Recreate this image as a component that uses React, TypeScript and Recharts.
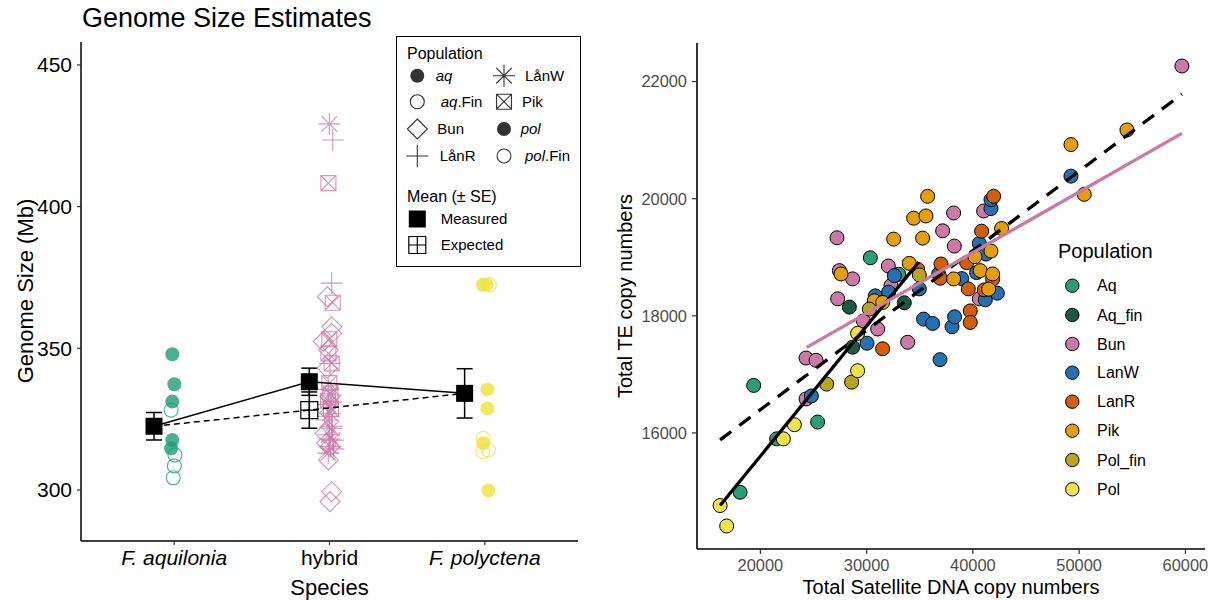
import React from 'react';
import { ScatterChart, Scatter, XAxis, YAxis, ErrorBar } from 'recharts';

const FONT = '"Liberation Sans", Arial, Helvetica, sans-serif';

// ---------------- Left panel: genome size ----------------
const speciesTicks = [1, 2, 3];
const speciesNames = ['F. aquilonia', 'hybrid', 'F. polyctena'];
const genomeTicks = [300, 350, 400, 450];

const aqX = [0.988, 1.001, 0.988, 0.988, 0.98];
const aqY = [347.9, 337.3, 331.2, 317.6, 314.7];
const aqFinX = [0.98, 1.005, 1.001, 0.994];
const aqFinY = [328.2, 312.4, 308.5, 304.3];
const polX = [2.987, 3.012, 3.016, 3.016, 2.99, 3.023];
const polY = [372.4, 372.4, 335.5, 328.8, 316.5, 299.8];
const polFinX = [3.029, 2.99, 2.987, 3.023];
const polFinY = [372.4, 318.2, 313.5, 314.1];
const lanWX = [1.999, 2.01, 1.99, 2.003, 1.985, 2.014, 1.996, 2.021, 2.006, 1.992];
const lanWY = [429.2, 333.5, 330.2, 327.1, 324.7, 321.8, 319.5, 317.6, 315.3, 313.0];
const lanRX = [2.021, 2.014, 2.003, 1.993, 2.01, 1.996, 2.018, 2.0, 2.025];
const lanRY = [423.5, 373.0, 344.7, 335.5, 331.0, 326.0, 322.5, 318.0, 314.5];
const pikX = [1.993, 2.021, 1.999, 1.993, 2.014, 1.999, 2.006, 1.99, 2.01];
const pikY = [408.3, 366.1, 353.2, 348.2, 344.7, 337.7, 334.1, 331.5, 328.5];
const bunX = [1.986, 2.014, 2.014, 1.96, 1.993, 1.986, 2.003, 1.971, 1.98, 2.003, 1.993, 2.014, 2.003];
const bunY = [368.2, 357.6, 355.3, 352.4, 349.4, 343.0, 333.0, 320.0, 316.5, 315.3, 310.6, 299.4, 295.9];

const meanX = [0.87, 1.87, 2.87];
const measuredMean = [322.5, 338.2, 334.1];
const measuredSE = [4.85, 4.8, 8.7];
const expectedX = [1.87];
const expectedMean = [328.2];
const expectedSE = [6.4];

// ---------------- Right panel: TE vs satellite ----------------
const satTicks = [20000, 30000, 40000, 50000, 60000];
const teTicks = [16000, 18000, 20000, 22000];

const aqPts = [[18090, 14986], [19370, 16811], [21533, 15899], [25390, 16186], [30348, 18992], [33014, 18710]];
const aqFinPts = [[28686, 17464], [28373, 18149], [33547, 18223]];
const bunPts = [[59670, 22267], [24298, 16580], [24298, 17279], [25240, 17240], [29690, 17911], [31038, 17775], [33861, 17548], [32293, 18517], [32042, 18851], [27212, 19333], [27432, 18772], [28686, 18631], [27275, 18291], [38251, 19191], [37153, 19452], [38188, 19757], [41011, 19791], [40603, 18291]];
const lanWPts = [[49228, 20386], [24797, 16631], [30037, 17532], [36904, 17251], [35361, 17944], [36208, 17870], [38033, 17814], [38278, 17983], [30819, 18341], [32073, 18404], [32606, 18687], [34958, 18460], [38941, 18636], [36777, 18715], [40352, 18738], [40603, 19236], [41230, 19055], [41701, 19831], [41701, 19984], [41168, 18274], [42297, 18387]];
const lanRPts = [[31505, 17437], [39755, 18084], [39755, 17887], [34802, 18795], [39568, 18460], [36997, 18885], [36934, 18642], [39412, 18908], [41858, 18625], [40823, 19446], [41952, 20041], [41074, 18443]];
const pikPts = [[49228, 20925], [54497, 21174], [50480, 20075], [30725, 18257], [31509, 18228], [34018, 18896], [38188, 18630], [40195, 19010], [40697, 18772], [41858, 18715], [41701, 19106], [42704, 19491], [32544, 19310], [35272, 19327], [34425, 19667], [35586, 19706], [35742, 20041], [41481, 18455], [27589, 18715]];
const polFinPts = [[26237, 16834], [28589, 16867], [30255, 18115], [34958, 18698]];
const polPts = [[16209, 14759], [16830, 14410], [22164, 15899], [23198, 16140], [29153, 17063], [29155, 17700]];

const dashedFit = [[16209, 15880], [59670, 21786]];
const bunFit = [[24356, 17461], [59670, 21116]];
const polFit = [[16209, 14759], [34892, 18914]];

const popNames = ['Aq', 'Aq_fin', 'Bun', 'LanW', 'LanR', 'Pik', 'Pol_fin', 'Pol'];
const popColors = ['#2A9D78', '#1B5A41', '#CC79A7', '#2271B2', '#D55E00', '#E69F00', '#B5A61E', '#F0E442'];
const popData = [aqPts, aqFinPts, bunPts, lanWPts, lanRPts, pikPts, polFinPts, polPts];

// ---------------- helpers ----------------
const zip = (xs: number[], ys: number[]) => xs.map((x, i) => ({ x, y: ys[i] }));
const pairs = (p: number[][]) => p.map(([x, y]) => ({ x, y }));

const GREEN = '#1B9E77';
const YELLOW = '#F0E442';
const PINK = '#CC79A7';

function Mark({ kind, cx, cy, color, op = 1, sw = 1.1 }: { kind: string; cx: number; cy: number; color: string; op?: number; sw?: number }) {
  if (cx == null || cy == null) return <g />;
  switch (kind) {
    case 'dot':
      return <circle cx={cx} cy={cy} r={7} fill={color} fillOpacity={op} />;
    case 'ring':
      return <circle cx={cx} cy={cy} r={7} fill="none" stroke={color} strokeOpacity={op} strokeWidth={sw} />;
    case 'diamond': {
      const s = 10;
      return <path d={`M${cx},${cy - s}L${cx + s},${cy}L${cx},${cy + s}L${cx - s},${cy}Z`} fill="none" stroke={color} strokeOpacity={op} strokeWidth={sw} />;
    }
    case 'plus': {
      const s = 11;
      return <path d={`M${cx - s},${cy}H${cx + s}M${cx},${cy - s}V${cy + s}`} fill="none" stroke={color} strokeOpacity={op} strokeWidth={sw} />;
    }
    case 'star': {
      const s = 11;
      const d = 7.8;
      return <path d={`M${cx - s},${cy}H${cx + s}M${cx},${cy - s}V${cy + s}M${cx - d},${cy - d}L${cx + d},${cy + d}M${cx - d},${cy + d}L${cx + d},${cy - d}`} fill="none" stroke={color} strokeOpacity={op} strokeWidth={sw} />;
    }
    case 'boxx': {
      const s = 7.5;
      return <path d={`M${cx - s},${cy - s}H${cx + s}V${cy + s}H${cx - s}ZM${cx - s},${cy - s}L${cx + s},${cy + s}M${cx - s},${cy + s}L${cx + s},${cy - s}`} fill="none" stroke={color} strokeOpacity={op} strokeWidth={sw} />;
    }
    case 'square': {
      const s = 8.5;
      return <rect x={cx - s} y={cy - s} width={2 * s} height={2 * s} fill={color} />;
    }
    case 'squareplus': {
      const s = 8.5;
      return <path d={`M${cx - s},${cy - s}H${cx + s}V${cy + s}H${cx - s}ZM${cx - s},${cy}H${cx + s}M${cx},${cy - s}V${cy + s}`} fill="none" stroke={color} strokeWidth={1.2} />;
    }
    default:
      return <g />;
  }
}

const shapeOf = (kind: string, color: string, op = 1) => (p: any) => <Mark kind={kind} cx={p.cx} cy={p.cy} color={color} op={op} />;
const noShape = () => <g />;

const SpeciesTick = (props: any) => {
  const { x, y, payload } = props;
  const i = speciesTicks.indexOf(payload.value);
  const label = speciesNames[i] ?? '';
  return (
    <text x={x} y={y} dy="0.71em" textAnchor="middle" fontSize={21} fontFamily={FONT} fill="#000" fontStyle={label.startsWith('F.') ? 'italic' : 'normal'}>
      {label}
    </text>
  );
};

function LeftChart() {
  const measured = meanX.map((x, i) => ({ x, y: measuredMean[i], se: measuredSE[i] }));
  const expected = expectedX.map((x, i) => ({ x, y: expectedMean[i], se: expectedSE[i] }));
  const expPath = [measured[0], { x: expectedX[0], y: expectedMean[0] }, measured[2]];
  return (
    <ScatterChart width={600} height={600} margin={{ top: 42, right: 22, bottom: 0, left: 0 }}>
      <XAxis type="number" dataKey="x" domain={[0.4, 3.6]} ticks={speciesTicks} allowDataOverflow height={59} tickSize={4} tickMargin={5}
        tick={<SpeciesTick />} tickLine={{ stroke: '#333', strokeWidth: 1.2 }} axisLine={{ stroke: '#000', strokeWidth: 1.5 }} />
      <YAxis type="number" dataKey="y" domain={[282, 458.1]} ticks={genomeTicks} allowDataOverflow width={81} tickSize={4} tickMargin={5}
        tick={{ fill: '#000', fontSize: 21, fontFamily: FONT }} tickLine={{ stroke: '#333', strokeWidth: 1.2 }} axisLine={{ stroke: '#000', strokeWidth: 1.5 }} />
      <Scatter data={zip(aqX, aqY)} shape={shapeOf('dot', GREEN, 0.8)} isAnimationActive={false} />
      <Scatter data={zip(aqFinX, aqFinY)} shape={shapeOf('ring', GREEN, 0.8)} isAnimationActive={false} />
      <Scatter data={zip(bunX, bunY)} shape={shapeOf('diamond', PINK, 0.8)} isAnimationActive={false} />
      <Scatter data={zip(lanRX, lanRY)} shape={shapeOf('plus', PINK, 0.8)} isAnimationActive={false} />
      <Scatter data={zip(lanWX, lanWY)} shape={shapeOf('star', PINK, 0.8)} isAnimationActive={false} />
      <Scatter data={zip(pikX, pikY)} shape={shapeOf('boxx', PINK, 0.8)} isAnimationActive={false} />
      <Scatter data={zip(polX, polY)} shape={shapeOf('dot', YELLOW, 0.85)} isAnimationActive={false} />
      <Scatter data={zip(polFinX, polFinY)} shape={shapeOf('ring', YELLOW, 0.85)} isAnimationActive={false} />
      <Scatter data={expPath} shape={noShape} line={{ stroke: '#000', strokeWidth: 1.5, strokeDasharray: '6 4' }} isAnimationActive={false} />
      <Scatter data={expected} shape={shapeOf('squareplus', '#000')} isAnimationActive={false}>
        <ErrorBar dataKey="se" direction="y" width={8} stroke="#000" strokeWidth={1.5} />
      </Scatter>
      <Scatter data={measured} shape={shapeOf('square', '#000')} line={{ stroke: '#000', strokeWidth: 1.5 }} isAnimationActive={false}>
        <ErrorBar dataKey="se" direction="y" width={8} stroke="#000" strokeWidth={1.5} />
      </Scatter>
    </ScatterChart>
  );
}

function RightChart() {
  const circle = (color: string) => (p: any) =>
    p.cx == null ? <g /> : <circle cx={p.cx} cy={p.cy} r={7} fill={color} stroke="#000" strokeWidth={1} />;
  return (
    <ScatterChart width={617} height={600} margin={{ top: 43, right: 12, bottom: 0, left: 0 }}>
      <XAxis type="number" dataKey="x" domain={[14036, 61843]} ticks={satTicks} allowDataOverflow height={51} tickSize={5} tickMargin={5}
        tick={{ fill: '#4D4D4D', fontSize: 16.4, fontFamily: FONT }} tickLine={{ stroke: '#333', strokeWidth: 1.2 }} axisLine={{ stroke: '#000', strokeWidth: 1.6 }} />
      <YAxis type="number" dataKey="y" domain={[14017, 22660]} ticks={teTicks} allowDataOverflow width={97} tickSize={5} tickMargin={5}
        tick={{ fill: '#4D4D4D', fontSize: 16.4, fontFamily: FONT }} tickLine={{ stroke: '#333', strokeWidth: 1.2 }} axisLine={{ stroke: '#000', strokeWidth: 1.6 }} />
      {popData.map((d, i) => (
        <Scatter key={popNames[i]} name={popNames[i]} data={pairs(d)} shape={circle(popColors[i])} isAnimationActive={false} />
      ))}
      <Scatter data={pairs(polFit)} shape={noShape} line={{ stroke: '#000', strokeWidth: 3.3 }} isAnimationActive={false} />
      <Scatter data={pairs(dashedFit)} shape={noShape} line={{ stroke: '#000', strokeWidth: 3.3, strokeDasharray: '14 10' }} isAnimationActive={false} />
      <Scatter data={pairs(bunFit)} shape={noShape} line={{ stroke: PINK, strokeWidth: 3.3 }} isAnimationActive={false} />
    </ScatterChart>
  );
}

const leftLegendCol1 = [
  { kind: 'dot', label: ['aq', ''], lx: 435.7 },
  { kind: 'ring', label: ['aq', '.Fin'], lx: 440.7 },
  { kind: 'diamond', label: ['', 'Bun'], lx: 437.3 },
  { kind: 'plus', label: ['', 'LånR'], lx: 439.7 },
];
const leftLegendCol2 = [
  { kind: 'star', label: ['', 'LånW'], lx: 525 },
  { kind: 'boxx', label: ['', 'Pik'], lx: 522 },
  { kind: 'dot', label: ['pol', ''], lx: 520.7 },
  { kind: 'ring', label: ['pol', '.Fin'], lx: 525 },
];
const legendRowsY = [75.7, 101.7, 129, 156];

function Overlay() {
  const txt = { fontFamily: FONT, fill: '#000' } as const;
  const item = (it: any, sx: number, y: number) => (
    <g key={it.lx + '-' + y}>
      <Mark kind={it.kind} cx={sx} cy={y} color="#333" />
      <text x={it.lx} y={y + 5.3} fontSize={15} {...txt}>
        {it.label[0] && <tspan fontStyle="italic">{it.label[0]}</tspan>}
        {it.label[1] && <tspan>{it.label[1]}</tspan>}
      </text>
    </g>
  );
  const rowsR = [285.7, 315, 344, 372.7, 401.7, 430.7, 460, 489.3];
  return (
    <svg width={1217} height={600} style={{ position: 'absolute', left: 0, top: 0, pointerEvents: 'none' }}>
      <text x={82} y={27} fontSize={27} {...txt}>Genome Size Estimates</text>
      <text transform="translate(33,291) rotate(-90)" textAnchor="middle" fontSize={22} {...txt}>Genome Size (Mb)</text>
      <text x={329.5} y={595} textAnchor="middle" fontSize={22} {...txt}>Species</text>
      <text transform="translate(632,296) rotate(-90)" textAnchor="middle" fontSize={20} {...txt}>Total TE copy numbers</text>
      <text x={951} y={594} textAnchor="middle" fontSize={20} {...txt}>Total Satellite DNA copy numbers</text>

      {/* left legend */}
      <rect x={396.5} y={36.5} width={184} height={230} fill="#fff" stroke="#000" strokeWidth={1} />
      <text x={407} y={59.3} fontSize={16} {...txt}>Population</text>
      {leftLegendCol1.map((it, i) => item(it, 417.3, legendRowsY[i]))}
      {leftLegendCol2.map((it, i) => item(it, 504, legendRowsY[i]))}
      <text x={407} y={201.7} fontSize={16} {...txt}>Mean (± SE)</text>
      <Mark kind="square" cx={417.3} cy={219} color="#000" />
      <text x={440.7} y={224.3} fontSize={15} {...txt}>Measured</text>
      <Mark kind="squareplus" cx={417.3} cy={245} color="#000" />
      <text x={440.7} y={250.3} fontSize={15} {...txt}>Expected</text>

      {/* right legend */}
      <text x={1058} y={258} fontSize={20} {...txt}>Population</text>
      {popNames.map((n, i) => (
        <g key={n}>
          <circle cx={1072.3} cy={rowsR[i]} r={6.7} fill={popColors[i]} stroke="#000" strokeWidth={1} />
          <text x={1097} y={rowsR[i] + 5.7} fontSize={16} {...txt}>{n}</text>
        </g>
      ))}
    </svg>
  );
}

export default function App() {
  return (
    <div style={{ position: 'absolute', left: 0, top: 0, width: 1217, height: 600, background: '#fff', fontFamily: FONT }}>
      <div style={{ position: 'absolute', left: 0, top: 0 }}>
        <LeftChart />
      </div>
      <div style={{ position: 'absolute', left: 600, top: 0 }}>
        <RightChart />
      </div>
      <Overlay />
    </div>
  );
}
